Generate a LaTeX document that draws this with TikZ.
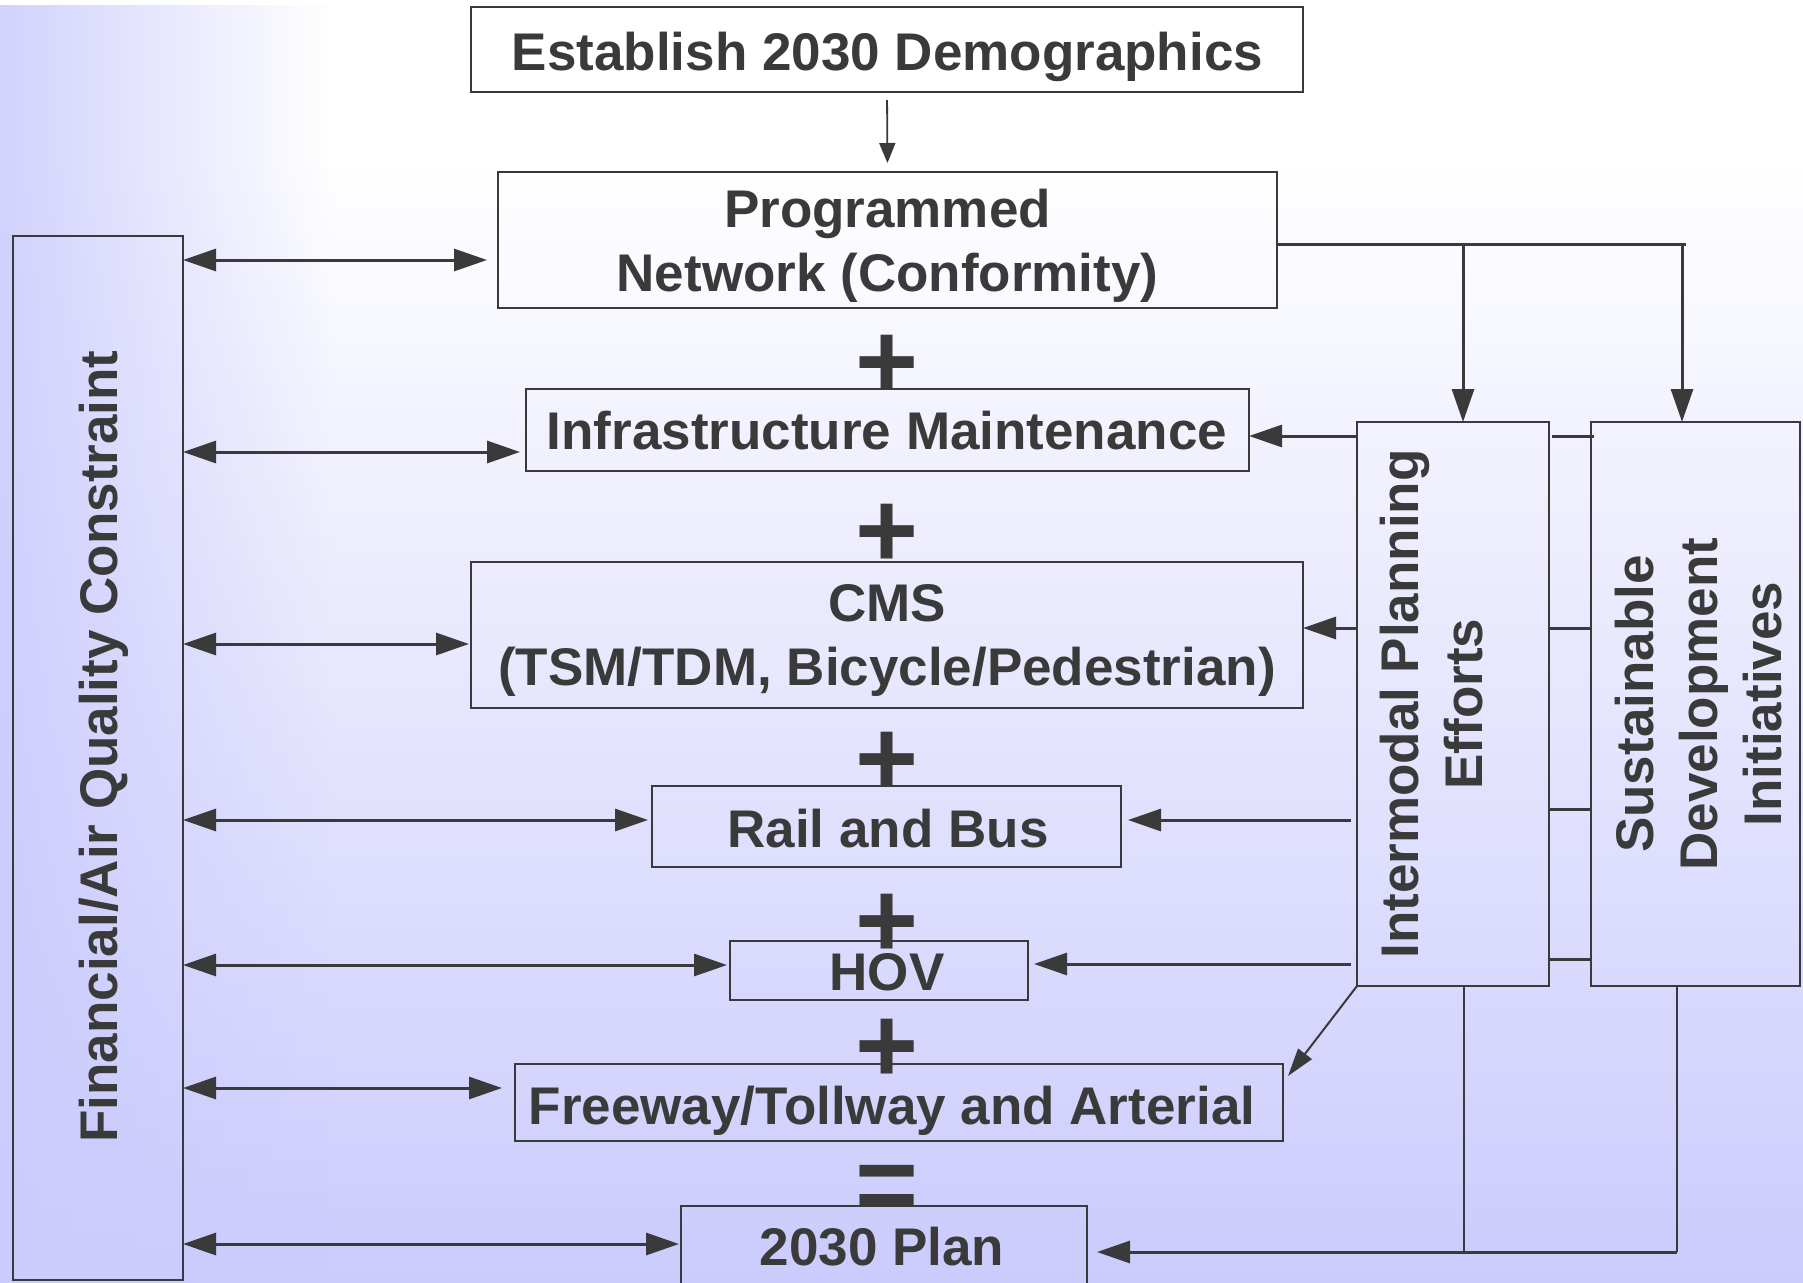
\documentclass[tikz,border=0pt]{standalone}
\usepackage{fontspec}
\setmainfont{Liberation Sans}
\usetikzlibrary{arrows.meta,fadings}
\definecolor{ink}{RGB}{58,58,58}
\definecolor{lav}{RGB}{203,203,253}
\begin{document}
\begin{tikzpicture}[x=1pt,y=-1pt,
  box/.style={draw=ink, line width=2pt, inner sep=0pt, outer sep=0pt, rectangle},
  txt/.style={text=ink, inner sep=0pt, font=\fontsize{53}{64}\selectfont\bfseries},
  op/.style={text=ink, inner sep=0pt, font=\fontsize{108}{120}\selectfont\bfseries, anchor=base},
  bihead/.style={line width=3pt, draw=ink, {Triangle[length=33pt,width=22pt]}-{Triangle[length=33pt,width=22pt]}},
  head/.style={line width=3pt, draw=ink, -{Triangle[length=33pt,width=22pt]}},
  wire/.style={line width=3pt, draw=ink},
  thinwire/.style={line width=2pt, draw=ink},
  smallhead/.style={line width=1.8pt, draw=ink, -{Triangle[length=20pt,width=16pt]}},
  slanthead/.style={line width=2pt, draw=ink, -{Triangle[length=28pt,width=17pt]}},
]
% page and background
\useasboundingbox (0,0) rectangle (1803,1282);
\clip (0,0) rectangle (1803,1282);
\fill[white] (0,0) rectangle (1803,160);
\shade[top color=white, bottom color=lav] (0,159) rectangle (1803,1282);
\fill[lav, path fading=east] (-50,0) rectangle (330,1282);

% boxes
\node[box, minimum width=832pt, minimum height=85pt]  (demo)  at (887,49.5)   {};
\node[box, minimum width=779pt, minimum height=136pt] (prog)  at (887.5,240)  {};
\node[box, minimum width=723pt, minimum height=82pt]  (infra) at (887.5,430)  {};
\node[box, minimum width=832pt, minimum height=146pt] (cms)   at (887,635)    {};
\node[box, minimum width=469pt, minimum height=81pt]  (rail)  at (886.5,826.5){};
\node[box, minimum width=298pt, minimum height=59pt]  (hov)   at (879,970.5)  {};
\node[box, minimum width=768pt, minimum height=77pt]  (free)  at (899,1102.5) {};
\node[box, minimum width=406pt, minimum height=84pt]  (plan)  at (884,1248)   {};
\node[box, minimum width=170pt, minimum height=1044pt] (fin)  at (98,758)     {};
\node[box, minimum width=192pt, minimum height=564pt] (imp)   at (1453,704)   {};
\node[box, minimum width=209pt, minimum height=564pt] (sdi)   at (1695.5,704) {};

% labels
\node[txt, anchor=base] (demoT)  at (887.5,70)  {Establish 2030 Demographics};
\node[txt, align=center] (progT) at (887.5,245.5) {Programmed\\Network (Conformity)};
\node[txt, anchor=base] (infraT) at (887,449)   {Infrastructure Maintenance};
\node[txt, align=center] (cmsT)  at (887,640.5) {CMS\\(TSM/TDM, Bicycle/Pedestrian)};
\node[txt, anchor=base] (railT)  at (888,847)   {Rail and Bus};
\node[txt, anchor=base] (hovT)   at (887,990)   {HOV};
\node[txt, anchor=base] (freeT)  at (892,1124)  {Freeway/Tollway and Arterial};
\node[txt, anchor=base] (planT)  at (882,1265)  {2030 Plan};
\node[txt, anchor=base, rotate=90] (finT) at (117.5,746.5) {Financial/Air Quality Constraint};
\node[txt, align=center, rotate=90] (impT) at (1432,704) {Intermodal Planning\\Efforts};
\node[txt, align=center, rotate=90] (sdiT) at (1699,704) {Sustainable\\Development\\Initiatives};

% operators between the stages
\node[op] (plusA) at (887,398)    {+};
\node[op] (plusB) at (887,567)    {+};
\node[op] (plusC) at (887,795.5)  {+};
\node[op] (plusD) at (887,957)    {+};
\node[op] (plusE) at (887,1082)   {+};
\node[op] (eqF)   at (887,1221.5) {=};

% row heights of the constraint links
\coordinate (r1) at (0,260);
\coordinate (r2) at (0,452);
\coordinate (r3) at (0,644);
\coordinate (r4) at (0,820);
\coordinate (r5) at (0,965);
\coordinate (r6) at (0,1088);
\coordinate (r7) at (0,1244);

\draw[bihead, shorten >=11pt] (fin.east |- r1) -- (prog.west |- r1);
\draw[bihead, shorten >=6pt]  (fin.east |- r2) -- (infra.west |- r2);
\draw[bihead, shorten >=2pt]  (fin.east |- r3) -- (cms.west |- r3);
\draw[bihead, shorten >=4pt]  (fin.east |- r4) -- (rail.west |- r4);
\draw[bihead, shorten >=3pt]  (fin.east |- r5) -- (hov.west |- r5);
\draw[bihead, shorten >=13pt] (fin.east |- r6) -- (free.west |- r6);
\draw[bihead, shorten >=2pt]  (fin.east |- r7) -- (plan.west |- r7);

% demographics feed the programmed network
\draw[smallhead, shorten <=8pt, shorten >=9pt] (demo.south) -- (prog.north);

% programmed network feeds both planning boxes
\coordinate (busend) at (1686,244);
\coordinate (dropA) at (1463,244);
\coordinate (dropB) at (1682,244);
\draw[wire] (prog.east |- busend) -- (busend);
\draw[head] (dropA) -- (dropA |- imp.north);
\draw[head] (dropB) -- (dropB |- sdi.north);

% intermodal planning efforts feed the stages
\coordinate (s1) at (0,436);
\coordinate (s2) at (0,628);
\coordinate (s3) at (0,809);
\coordinate (s4) at (0,959);
\draw[head] (imp.west |- s1) -- (infra.east |- s1);
\draw[head] (imp.west |- s2) -- (cms.east |- s2);
\draw[head, shorten <=6pt, shorten >=7pt] (imp.west |- r4) -- (rail.east |- r4);
\draw[head, shorten <=6pt, shorten >=6pt] (imp.west |- 0,964) -- (hov.east |- 0,964);
\draw[slanthead] (imp.south west) -- ([shift={(5,12)}]free.north east);

% links between the two planning boxes
\draw[wire, shorten <=3pt, shorten >=-3pt] (imp.east |- s1) -- (sdi.west |- s1);
\draw[wire] (imp.east |- s2) -- (sdi.west |- s2);
\draw[wire] (imp.east |- s3) -- (sdi.west |- s3);
\draw[wire] (imp.east |- s4) -- (sdi.west |- s4);

% both planning boxes return into the 2030 plan
\coordinate (jA) at (1464,1252);
\coordinate (jB) at (1677,1252);
\draw[thinwire] (jA |- imp.south) -- (jA);
\draw[thinwire] (jB |- sdi.south) -- (jB);
\draw[head, shorten >=10pt] (jB) -- (plan.east |- jB);
\end{tikzpicture}
\end{document}
